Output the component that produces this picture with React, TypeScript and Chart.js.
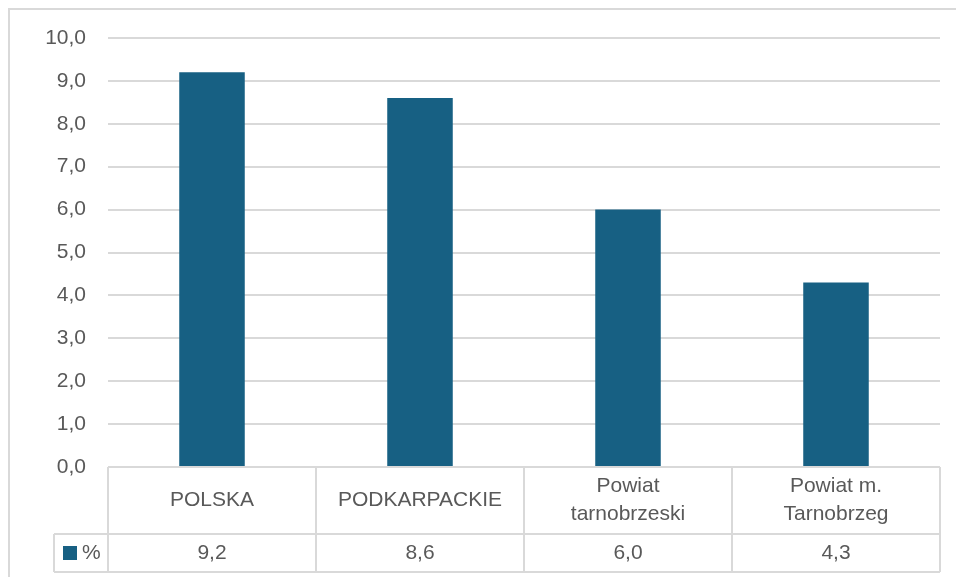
import React, { useEffect, useRef } from "react";
import { Chart, registerables } from "chart.js";

Chart.register(...registerables);

// Categories (multi-line labels as arrays of lines)
const categories: string[][] = [
  ["POLSKA"],
  ["PODKARPACKIE"],
  ["Powiat", "tarnobrzeski"],
  ["Powiat m.", "Tarnobrzeg"],
];
const seriesName = "%";
const values: number[] = [9.2, 8.6, 6.0, 4.3];
const yMin = 0;
const yMax = 10;
const yStep = 1;

const BAR_COLOR = "#176083";
const GRID_COLOR = "#d9d9d9";
const TEXT_COLOR = "#595959";
const FONT_FAMILY = "'Liberation Sans', Arial, sans-serif";
const FONT_SIZE = 21;

const WIDTH = 956;
const HEIGHT = 577;

const fmt = (v: number) => v.toFixed(1).replace(".", ",");

// Draws the chart frame plus an Excel-style data table under the plot area
const dataTablePlugin = {
  id: "dataTable",
  beforeDraw(chart: any) {
    const ctx = chart.ctx;
    ctx.save();
    ctx.strokeStyle = GRID_COLOR;
    ctx.lineWidth = 2;
    ctx.strokeRect(9, 9, chart.width + 100, chart.height + 100);
    ctx.restore();
  },
  afterDraw(chart: any) {
    const ctx = chart.ctx;
    const area = chart.chartArea;
    const xScale = chart.scales.x;
    const n = categories.length;
    const colW = (area.right - area.left) / n;
    const row1Top = area.bottom;
    const row1Bottom = row1Top + 67;
    const row2Bottom = row1Bottom + 38;
    const keyLeft = area.left - 54;

    ctx.save();
    ctx.strokeStyle = GRID_COLOR;
    ctx.lineWidth = 2;
    ctx.beginPath();
    // horizontal rules
    ctx.moveTo(area.left, row1Top);
    ctx.lineTo(area.right, row1Top);
    ctx.moveTo(keyLeft, row1Bottom);
    ctx.lineTo(area.right, row1Bottom);
    ctx.moveTo(keyLeft, row2Bottom);
    ctx.lineTo(area.right, row2Bottom);
    // vertical rules
    for (let i = 0; i <= n; i++) {
      const x = area.left + i * colW;
      ctx.moveTo(x, row1Top);
      ctx.lineTo(x, row2Bottom);
    }
    ctx.moveTo(keyLeft, row1Bottom);
    ctx.lineTo(keyLeft, row2Bottom);
    ctx.stroke();

    ctx.fillStyle = TEXT_COLOR;
    ctx.font = `${FONT_SIZE}px ${FONT_FAMILY}`;
    ctx.textAlign = "center";
    ctx.textBaseline = "middle";
    const lineH = 28;
    const r1Mid = (row1Top + row1Bottom) / 2;
    const r2Mid = (row1Bottom + row2Bottom) / 2;
    categories.forEach((lines, i) => {
      const cx = xScale.getPixelForValue(i);
      const startY = r1Mid - ((lines.length - 1) * lineH) / 2;
      lines.forEach((ln, j) => ctx.fillText(ln, cx, startY + j * lineH));
      ctx.fillText(fmt(values[i]), cx, r2Mid);
    });

    // legend key
    ctx.fillStyle = BAR_COLOR;
    ctx.fillRect(keyLeft + 9, r2Mid - 7, 14, 14);
    ctx.fillStyle = TEXT_COLOR;
    ctx.textAlign = "left";
    ctx.fillText(seriesName, keyLeft + 28, r2Mid);
    ctx.restore();
  },
};

export default function App() {
  const canvasRef = useRef<HTMLCanvasElement | null>(null);

  useEffect(() => {
    if (!canvasRef.current) return;
    const chart = new Chart(canvasRef.current, {
      type: "bar",
      data: {
        labels: categories.map((c) => c.join(" ")),
        datasets: [
          {
            label: seriesName,
            data: values,
            backgroundColor: BAR_COLOR,
            categoryPercentage: 1,
            barPercentage: 0.315,
          },
        ],
      },
      options: {
        responsive: false,
        animation: false,
        layout: { padding: { top: 38, right: 16, bottom: 110, left: 0 } },
        plugins: {
          legend: { display: false },
          tooltip: { enabled: false },
        },
        scales: {
          x: { display: false },
          y: {
            min: yMin,
            max: yMax,
            ticks: {
              stepSize: yStep,
              color: TEXT_COLOR,
              font: { family: FONT_FAMILY, size: FONT_SIZE },
              padding: 22,
              callback: (v: any) => fmt(Number(v)),
            },
            grid: { color: GRID_COLOR, lineWidth: 2, drawTicks: false },
            border: { display: false },
            afterFit: (scale: any) => {
              scale.width = 108;
            },
          },
        },
      },
      plugins: [dataTablePlugin],
    });
    return () => chart.destroy();
  }, []);

  return (
    <div style={{ position: "fixed", left: 0, top: 0, width: WIDTH, height: HEIGHT, overflow: "hidden", background: "#fff" }}>
      <canvas ref={canvasRef} width={WIDTH} height={HEIGHT} style={{ display: "block" }} />
    </div>
  );
}
